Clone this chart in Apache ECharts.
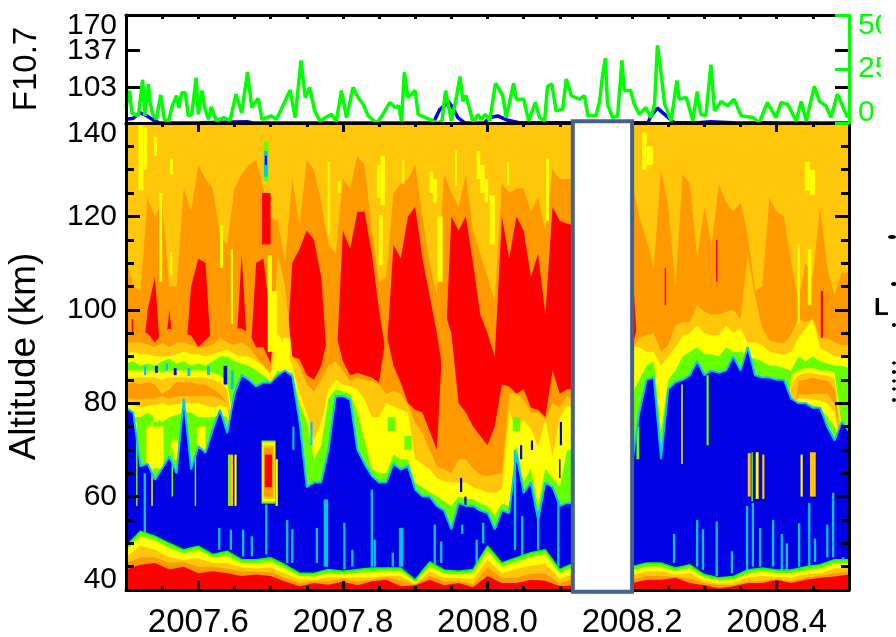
<!DOCTYPE html>
<html><head><meta charset="utf-8">
<script src="https://cdn.jsdelivr.net/npm/echarts@6/dist/echarts.min.js"></script>
<style>html,body{margin:0;background:#fff}#c{width:896px;height:637px}</style></head>
<body><div id="c"></div><script>
const xMajor=[2007.6,2007.8,2008.0,2008.2,2008.4];
const xMinor=[2007.55,2007.65,2007.7,2007.75,2007.85,2007.9,2007.95,2008.05,2008.1,2008.15,2008.25,2008.3,2008.35,2008.45];
const f107Ticks=[103,137];
const f107Top=[170];
const greenTicks=[0,25,50];
const N=null;
const greenT=[0,5,8,17,23,26,31,33,37,42,48,53,59,64,70,73,77,82,86,91,97,100,105,109,114,118,125,135,144,152,160,168,174,183,188,201,208,218,227,234,242,248,254,261,268,284,291,298,305,314,321,328,335,347,354,365,372,377,381,385,390,400,404,420,430,437,442,450,457,462,466,470,475,480,487,491,497,503,511,516,521,526,536,540,550,557,566,572,579,583,589,595,604,609,616,627,634,639,650,655,659,663,666,673,680,686,689,698,703,710,719,726,731,735,740,745,754,762,765,775,784,790,795,802,809,814,823,832,841,851,867,876,887,899,906,915,927,934,941,952,959,968,975,984,994,998];
const greenV=[7.2,15,4.7,3.3,20,3.3,18,10,4,1.7,13,1.7,1,8,12.7,7,14,14,3.3,4,21,4,15,7,1.7,7.5,1,2.5,1.2,13.4,4.8,23.5,7.2,11.4,1.7,3.3,1.7,8.7,15.2,2.5,29,11.8,16.5,5.6,1,4,1,15,2.5,16.5,11.8,8.7,3.3,0,3.3,9.5,7.2,8,1,23.5,11.8,15,4,1.7,0,1,15,1,12,21.5,10,12.7,7,0.2,4,1.7,4,1,18.4,15.8,12.7,2.5,18.4,11,11,1,9.5,2.5,1,17,18,5.6,6.4,20.4,12.7,11,12.7,3.3,3.3,10,21.8,30,8.7,2.5,3.3,29,15,15,8.7,4,7.2,2.5,8.7,36,23.5,8.7,1,19.7,11,11.8,1,14.6,4,3.3,27,5.6,10,8,11,3.3,2.5,0.2,9.5,2.5,9.5,8.7,1,10,1,17,10,8,2.5,13.4,5.6,2.5];
const blueT=[0,10,19,29,40,47,102,167,176,400,416,425,434,442,445,452,459,468,482,496,503,514,528,544,722,726,735,745,758,791,809,846,883,906,1000];
const blueV=[73.4,74.4,79.7,76.5,71.9,70,70.3,71.2,70,70,70,70.3,82.5,87,90.5,84,75,70.3,70,70.3,75,76.5,72.5,70.3,70.3,76.5,83.7,78,70.3,70.3,71.2,70,70.3,70,70];

const orangeTop=[111,105,104,124,120,123,105,105,126,121,131,128,126,116,114,126,129,131,132,126,120,119,110,128,118,132,130,123,114,112,128,
126,133,131,117,106,107,125,127,128,131,120,110,103,129,125,122,129,117,112,107,102,127,125,126,126,121,124,117,130,128,128,128,N,N,N,N,N,N,N,
127,120,115,109,130,122,105,129,127,111,122,114,127,123,121,123,116,104,105,124,121,120,110,102,110,107,122,109,103,108,108];
const redTop=[85,88,85,100,107,85,100,85,85,105,111,110,85,85,85,85,112,85,110,111,98,85,85,110,113,117,115,107,85,85,117,
113,121,121,112,100,90,114,111,120,122,111,103,95,85,120,117,120,110,99,95,90,120,111,120,117,107,112,99,122,119,118.5,118,N,N,N,N,N,N,N,
110,85,85,85,85,85,85,85,85,85,85,85,85,85,85,85,85,85,85,85,85,85,85,85,85,85,85,85,85,85,85];
const redBot=[95,95,95,95,93,95,96,95,95,94.5,92,93.5,95,95,95,96,96,95,92,92,88.6,100,100,90,89.4,86,85,88,95,95,89,
86,86.5,86,85.5,84.4,95,88,84.4,80,78.6,78,74,70,100,95,80,78,75,73,71,75,84,83.6,82,83,79,78.6,77,87,82,83,83,N,N,N,N,N,N,N,
92,98,98,98,98,98,98,98,98,98,98,98,98,98,98,98,98,98,98,98,98,98,98,98,98,98,98,98,98,98,98];
const amberLow=[93,93,93,92.5,92,93,92,93,93,92.5,92,92,92.5,94,93,92.5,93,92,90,88,86.5,112,105,90,88,84,82.5,85,88,89,87,
84.7,85.4,85,84.7,84,82,82.6,82,79.7,75.8,73.6,70,66.5,65.8,65,68,68,66,64.7,64.4,64.7,65,82,82,80.8,78,78,76.5,80,79,81.5,81,N,N,N,N,N,N,N,
91.7,94,94.6,95,91,92.4,96.7,97.4,97.4,101,99.6,99,99,99.6,100,98,112,103,96,93.5,93,92.8,94.6,98,97.4,98,94,94,93,92.4,92.4];
const yellowUp=[90.5,91,90.5,90.5,90,90,90,90.5,91,90.5,90.5,90,90.5,91,91.5,90.5,90,90,89,88,86,95,92,88,82,78,72,76,83,85,84,
83.6,83,80.8,77,77,80,79.4,78.6,78,68,67,65.8,64,63.3,63,63,63,62,61.5,60.8,60.8,61.5,78.6,73.6,76.5,74.4,70.8,76.5,68.6,77,79.4,79,N,N,N,N,N,N,N,
92,92,91,91,88,90,92,94.5,95,96.7,95,94.5,94.5,96.7,95,96,93,93,92.4,91,90.7,90.3,91,94,96,98,91.7,91,90,90,89.6];
const greenUp=[88.5,89,88,88.5,88,89,89.5,88.5,89,88,88.5,88,89,90,90,89,88.5,88,87,86,84.5,87,86.5,86.5,80,76,68,71,81,83,82.5,
82,78,72,66,65,65,69,68,68,63,62,61,60,59,58,60,59.5,59.5,58.5,58,56,58.5,58,71,63,66,58,66,64,62,70,70,N,N,N,N,N,N,N,
82,85,88,89,74,85,87,90,91,92,90.5,90.5,90,92,91,91,90,89.5,89,88,88,87.5,87,90,89,90,89,88.5,88,88,87.5];
const blueTop=[79,78,66.5,67,63.6,66,68.6,65,81,65.8,70.8,69.4,74.4,78.6,73.6,82,86,85,83.6,84.4,84.4,86,87,85.8,76,62,63,63,70,81.5,81.5,
80.8,70,67,64.4,63,63,67,65.8,66.5,61.5,60,60,58,57,53,58.6,58,58,57,56.5,53,57,56.5,69,60.8,63,55,63,62,58,58.6,58.6,N,N,N,N,N,N,N,
67,78,85,85.5,68,83,84.5,85,86,89,86,87,86.5,87,90,87,92,86,85.5,85.5,85,85,81,80,80,79,79,75,72,76,74];

const blobLY=[87,87,87,87,87,86.5,87,87,87,87,87,87,86.5,86,84.5,75,70];
const blobLA=[85.5,85.5,85.5,85.5,85.5,85,85.5,85.5,85.5,85.5,85.5,85.5,85,84.5,83,72,70];
const blobLO=[84,84.5,84,84.5,84,82,83,84.5,84.5,84.5,84,84,83,82,80,70,70];
const blobLA2=[81,81,80.8,81,81,81.5,81,81.5,81.5,81.5,81.5,81.5,81.5,81,80,70,70];
const blobLY2=[80,79.5,79,79.5,79.5,80,79.5,79.8,80,80,80,79.5,79,79.5,79,68,68];
const blobLG2=[78,77,77,78,77,76,77,77.5,78,78,77,77,77,77.5,77,66,66];
const blobRY=[70,86,87,87.5,87.5,87,87,86.5,75,70];
const blobRA=[70,84,86,86.5,86.5,86,86,85,73,70];
const blobRO=[70,70,84.8,85,85.5,85,84.8,83,70,70];
const blobRA2=[70,70,82,81.8,82,82,82,80,70,70];
const blobRY2=[70,80,81,81,80.8,80.5,80,78,70,70];
const blobRG2=[70,78,80,80,79.5,79,77,75,70,70];

const surfG=[49.4,52.6,51.5,50,48.6,49.4,47.6,48.3,46.5,46.5,46.9,45.4,43.6,43.6,44.4,44,44.4,44.7,44.7,44.7,42.2,46,44.3,44,44.4,49.4,45.8,46.9,48,48.6,44.4,45.8,N,N,N,45,45.8,45.8,44.7,45.4,43.3,42.6,42.9,44.3,44.7,44.3,44.3,45,45.4,46.5,46.5];
const surfY=[48.5,51.5,50.6,49,47.8,48.5,47,47.3,45.8,45.7,46,44.6,43,42.9,43.6,43.3,43.7,43.8,44,44,41.7,45,43.5,43.3,43.6,48.3,45,46,47,47.7,43.6,45,N,N,N,44.2,45,45,44,44.6,42.7,42,42.2,43.5,44,43.6,43.6,44.2,44.6,45.7,45.8];
const surfA=[47,49.5,48.6,47,46.5,46.8,45.8,45.8,44.8,44.6,44.8,43.5,42.3,42.2,42.8,42.6,42.7,42.7,43,43,41.3,44,42.6,42.5,42.3,46.5,43.6,44.5,45.2,45.6,42.4,43.5,N,N,N,43.2,44,44,43.3,43.6,42,41.4,41.6,42.7,43,42.8,42.7,43.3,43.6,44.6,44.8];
const surfO=[45.8,47,47,45.8,46,45,45,44.6,44,43.9,43.8,42.6,41.5,41.9,41.9,42.4,41.8,42.2,42.8,42,41.2,43,41.8,41.9,41.2,44.8,42.5,42.6,43.5,43.6,41.4,42.5,N,N,N,42.3,43,43,42.8,42.4,41.5,41,41,41.9,42,42.3,41.9,42.7,43,43.6,44];
const surfR=[44.4,45.4,45.8,44.4,45,43.6,44,43.6,43,43.3,43,41.8,40.8,41.5,41.1,41.8,41,41.9,42.2,40.8,41,42.2,41,41.5,40.6,43,41.5,41.5,42.2,42,40.8,41,N,N,N,41.5,42.2,42.2,42.6,41.5,41,40.4,40.8,41.5,41.5,42.2,41.5,42.2,42.6,42.9,43.3];

const streaks=[
[2007.517,2007.524,125.6,139.6,'Y'],[2007.524,2007.529,130,139,'Y'],[2007.539,2007.543,133,137,'Y'],[2007.561,2007.565,129,132.4,'Y'],[2007.546,2007.550,106,125,'Y'],
[2007.561,2007.564,107.4,112.4,'Y'],[2007.630,2007.634,109,118,'Y'],[2007.645,2007.648,97,113,'Y'],[2007.696,2007.702,91,111.7,'Y'],[2007.702,2007.709,91,104,'Y'],
[2007.717,2007.727,90,94,'Y'],[2007.779,2007.782,116,131.7,'Y'],[2007.793,2007.797,125,127.5,'Y'],[2007.847,2007.852,124,131,'Y'],[2007.852,2007.858,122.4,133,'Y'],
[2007.850,2007.855,109.6,120.3,'Y'],[2007.882,2007.885,127,132,'Y'],[2007.920,2007.925,125,129.6,'Y'],[2007.925,2007.930,123,128,'Y'],[2007.931,2007.938,106,120,'Y'],
[2007.985,2007.990,128,134,'Y'],[2007.990,2007.996,125,131,'Y'],[2007.996,2008.001,123,128,'Y'],[2008.003,2008.010,114,124.5,'Y'],[2007.955,2007.958,126.7,134,'Y'],[2008.081,2008.085,119,132.4,'Y'],
[2008.027,2008.030,126.7,131.7,'Y'],[2008.439,2008.446,125.5,131.7,'Y'],[2008.446,2008.453,124.6,130,'Y'],[2008.214,2008.220,130,138,'Y'],[2008.220,2008.229,131,135,'Y'],[2008.443,2008.448,101,113,'Y'],[2008.429,2008.432,97,114,'Y'],
[2007.688,2007.700,114,125,'R'],[2008.245,2008.247,101,109,'R'],[2008.316,2008.318,106,115,'R'],[2008.461,2008.464,94,104,'R'],[2007.508,2007.510,95,98,'R'],
[2007.690,2007.697,127.5,136,'L'],[2007.691,2007.696,128.5,134,'C'],[2007.692,2007.695,131,133,'B']];
const noise=[
[2007.528,2007.552,66,75,'Y'],[2007.562,2007.572,68,72,'Y'],[2007.598,2007.610,70,75,'Y'],[2007.505,2007.515,70,76,'Y'],[2007.538,2007.545,76,79,'Y'],
[2007.790,2007.798,68,72,'Y'],[2007.862,2007.872,74,77,'L'],[2007.885,2007.895,70,73,'L'],[2008.035,2008.045,74,77,'L'],[2008.118,2008.125,73,77,'L'],
[2007.525,2007.528,86,88,'C'],[2007.540,2007.544,86.5,88,'B'],[2007.555,2007.558,87,88.5,'C'],[2007.566,2007.570,86,87.5,'B'],[2007.585,2007.589,85.8,87.5,'C'],[2007.612,2007.616,86,88,'C'],[2007.635,2007.640,84,88,'B'],[2007.645,2007.649,83,87,'C']];
const events=[
[2007.6875,2007.707,58.5,72,'L'],[2007.6885,2007.706,59,71.6,'Y'],[2007.690,2007.705,59.5,71,'A'],[2007.691,2007.703,60,70.5,'O'],[2007.692,2007.702,62,69,'R'],
[2007.707,2007.710,58,68,'Y'],
[2007.641,2007.644,58,69,'L'],[2007.644,2007.648,58,69,'A'],[2007.650,2007.653,58,69,'Y'],
[2007.514,2007.516,58,72,'L'],[2007.535,2007.537,58,76,'Y'],[2007.563,2007.565,60,70,'L'],[2007.595,2007.597,58,74,'L'],
[2008.360,2008.364,60,69.3,'A'],[2008.365,2008.367,59,69.5,'L'],[2008.371,2008.375,59.5,69.5,'Y'],[2008.380,2008.383,59.5,69,'A'],
[2008.433,2008.436,60,69,'Y'],[2008.446,2008.454,60,69.5,'A'],
[2008.206,2008.210,68,75,'L'],[2008.268,2008.270,67,84,'Y'],[2008.303,2008.306,71,86,'L'],
[2008.045,2008.048,68,71,'B'],[2008.060,2008.063,70,72,'B'],[2008.100,2008.103,71,76,'B'],[2008.099,2008.101,64,68,'B'],[2007.968,2007.971,55,60,'B'],[2007.962,2007.965,61,64,'B'],[2007.730,2007.733,70,75,'C'],[2007.755,2007.758,71,76,'C']];
const spikes=[[.026,51.9,65],[.129,48.6,53.3],[.145,48.6,52.9],[.162,47.2,52.9],[.174,47.2,51.5],[.194,47.6,58.3],[.223,45.8,55],[.230,45.8,53],[.264,45.8,53.3],[.275,45,59.4],[.278,45,59.4],[.302,44.4,54.4],[.313,45,48.6],
[.340,45,61.5],[.344,45,50.8],[.369,45,48],[.379,45,53.3],[.382,45,53.3],[.427,45,54],[.436,45.8,50.4],[.465,52,54],[.485,45.8,50.8],[.494,50,54.4],[.538,48.6,70],[.548,47,55.8],[.570,48.6,57],[.598,45,59.4],
[.758,45.8,52],[.790,45,55],[.798,44.3,53],[.817,43,54.7],[.838,43.6,48.3],[.859,44.3,58],[.867,45,58.6],[.877,45,53.3],[.895,45,55],[.907,44.3,52],[.914,44.3,50],[.931,45,54.3],[.945,45,58.6],[.953,46,51],[.970,47,54],[.978,47,60.8],[.992,46,47]];
const gapBox=[2008.118,2008.2,39.6,140.4];

const COL={R:'#ff0000',O:'#ff9900',A:'#ffc60a',Y:'#ffff00',L:'#66ff00',G:'#00ff00',C:'#00c4ff',B:'#0000e6'};
const row=(arr,step,from=0)=>arr.map((v,i)=>[2007.5+(i+from)*step,v]);
function band(arr,color,step=0.01,from=0,extra={}){
 return Object.assign({type:'line',xAxisIndex:2,yAxisIndex:4,data:row(arr,step,from),showSymbol:false,silent:true,
  lineStyle:{width:0,color},areaStyle:{color,opacity:1,origin:'start'},itemStyle:{color},animation:false,z:2},extra);
}
function rects(data){
 return {type:'custom',xAxisIndex:2,yAxisIndex:4,silent:true,animation:false,z:2,clip:true,data:data.map(r=>r.slice()),
  encode:{x:[0,1],y:[2,3]},
  renderItem(p,api){const d=data[p.dataIndex];const a=api.coord([d[0],d[3]]),b=api.coord([d[1],d[2]]);
   return {type:'rect',shape:{x:a[0],y:a[1],width:Math.max(b[0]-a[0],1),height:b[1]-a[1]},style:{fill:COL[d[4]]}};}};
}
const spikeRects=spikes.map(s=>[2007.5+s[0]-0.0016,2007.5+s[0]+0.0016,s[1],s[2],'C']);
const font='Liberation Sans';
const tick=(len,vals,color='#000',w=3)=>({show:true,inside:true,length:len,customValues:vals,lineStyle:{color,width:w}});
const lineS=(color='#000',w=3)=>({show:true,onZero:false,lineStyle:{color,width:w}});
const xBase={type:'value',min:2007.5,max:2008.5,splitLine:{show:false},axisLabel:{show:false},z:10};
const series=[
 band(orangeTop,COL.O),band(redTop,COL.R),band(redBot,COL.O),band(amberLow,COL.A),rects(streaks),
 band(yellowUp,COL.Y),band(greenUp,COL.L),
 band(blobLY,COL.Y),band(blobLA,COL.A),band(blobLO,COL.O),band(blobLA2,COL.A),band(blobLY2,COL.Y),band(blobLG2,COL.L),
 band(blobRY,COL.Y,0.01,91),band(blobRA,COL.A,0.01,91),band(blobRO,COL.O,0.01,91),band(blobRA2,COL.A,0.01,91),band(blobRY2,COL.Y,0.01,91),band(blobRG2,COL.L,0.01,91),
 rects(noise),
 band(blueTop,COL.B,0.01,0,{lineStyle:{width:2,color:COL.C}}),
 rects(spikeRects),rects(events),
 band(surfG,COL.L,0.02,0,{lineStyle:{width:1.5,color:COL.G}}),band(surfY,COL.Y,0.02),band(surfA,COL.A,0.02),band(surfO,COL.O,0.02),band(surfR,COL.R,0.02),
 {type:'custom',xAxisIndex:2,yAxisIndex:4,silent:true,animation:false,z:20,clip:false,data:[gapBox],encode:{x:[0,1],y:[2,3]},
  renderItem(p,api){const a=api.coord([gapBox[0],gapBox[3]]),b=api.coord([gapBox[1],gapBox[2]]);
   return {type:'rect',shape:{x:a[0],y:a[1],width:b[0]-a[0],height:b[1]-a[1]},style:{fill:'#fff',stroke:'#44628c',lineWidth:4}};}},
 {type:'line',xAxisIndex:0,yAxisIndex:0,data:blueT.map((t,i)=>[2007.5+t/1000,blueV[i]]),showSymbol:false,silent:true,animation:false,lineStyle:{color:'#0000e6',width:3.5},itemStyle:{color:'#0000e6'},z:3},
 {type:'line',xAxisIndex:0,yAxisIndex:2,data:greenT.map((t,i)=>[2007.5+t/1000,greenV[i]]),showSymbol:false,silent:true,animation:false,lineStyle:{color:'#00ff00',width:3.5},itemStyle:{color:'#00ff00'},z:4}
];
const bigLabel={fontFamily:font,fontSize:30,lineHeight:21,color:'#000'};
const dot=(cx,cy,rx,ry)=>({type:'ellipse',z:100,shape:{cx,cy,rx,ry},style:{fill:'#000'}});
const option={animation:false,backgroundColor:'#fff',textStyle:{fontFamily:font},
 grid:[{left:126,right:47,top:15,height:108,show:false,outerBoundsMode:'none'},{left:126,right:47,top:123,height:467,show:true,backgroundColor:COL.A,borderWidth:0,outerBoundsMode:'none'}],
 xAxis:[
  Object.assign({},xBase,{gridIndex:0,position:'bottom',axisLine:lineS(),axisTick:{show:false}}),
  Object.assign({},xBase,{gridIndex:0,position:'top',axisLine:lineS(),axisTick:tick(4,xMajor.concat(xMinor))}),
  Object.assign({},xBase,{gridIndex:1,position:'bottom',axisLine:lineS(),axisTick:tick(9,xMajor),axisLabel:{show:true,customValues:xMajor,margin:21,fontFamily:font,fontSize:33,lineHeight:24,color:'#000',formatter:v=>v.toFixed(1)}}),
  Object.assign({},xBase,{gridIndex:1,position:'bottom',axisLine:{show:false},axisTick:tick(4,xMinor)}),
  Object.assign({},xBase,{gridIndex:1,position:'top',axisLine:lineS(),axisTick:tick(9,xMajor)}),
  Object.assign({},xBase,{gridIndex:1,position:'top',axisLine:{show:false},axisTick:tick(4,xMinor)})
 ],
 yAxis:[
  {type:'value',gridIndex:0,position:'left',min:70,max:170,z:10,splitLine:{show:false},axisLine:lineS(),axisTick:tick(14,f107Ticks),
   name:'F10.7',nameLocation:'middle',nameRotate:90,nameGap:83,nameTextStyle:{fontFamily:font,fontSize:33,color:'#000'},
   axisLabel:Object.assign({customValues:f107Ticks,margin:9},bigLabel)},
  {type:'value',gridIndex:0,position:'right',min:70,max:170,z:10,splitLine:{show:false},axisLine:{show:false},axisTick:tick(14,f107Ticks),axisLabel:{show:false}},
  {type:'value',gridIndex:0,position:'right',min:0,max:50,z:11,splitLine:{show:false},axisLine:lineS('#00ff00'),axisTick:tick(14,greenTicks,'#00ff00'),
   axisLabel:{customValues:greenTicks,margin:9,fontFamily:font,fontSize:30,lineHeight:21,color:'#00ff00',verticalAlignMaxLabel:'top',verticalAlignMinLabel:'bottom'}},
  {type:'value',gridIndex:0,position:'left',min:70,max:170,z:10,splitLine:{show:false},axisLine:{show:false},axisTick:{show:false},
   axisLabel:Object.assign({customValues:f107Top,margin:9,verticalAlign:'top'},bigLabel)},
  {type:'value',gridIndex:1,position:'left',min:40,max:140,interval:20,z:10,splitLine:{show:false},axisLine:lineS(),
   axisTick:{show:true,inside:true,length:14,lineStyle:{color:'#000',width:3}},minorTick:{show:true,splitNumber:4,length:8,lineStyle:{color:'#000',width:3}},
   name:'Altitude (km)',nameLocation:'middle',nameRotate:90,nameGap:83,nameTextStyle:{fontFamily:font,fontSize:37,color:'#000'},
   axisLabel:Object.assign({margin:9,verticalAlignMaxLabel:'top',verticalAlignMinLabel:'bottom'},bigLabel)},
  {type:'value',gridIndex:1,position:'right',min:40,max:140,interval:20,z:10,splitLine:{show:false},axisLine:lineS(),
   axisTick:{show:true,inside:true,length:14,lineStyle:{color:'#000',width:3}},minorTick:{show:true,splitNumber:4,length:8,lineStyle:{color:'#000',width:3}},axisLabel:{show:false}}
 ],
 graphic:[{type:'rect',z:100,shape:{x:881,y:0,width:15,height:125},style:{fill:'#fff'}},
  dot(892,237,4,2),dot(894,284,3,2),dot(894,325,2,2),dot(894,363,2,1.5),dot(894,372,2,2),dot(894,381,2,1.5),dot(894,389,2,1.5),dot(894,400,2,2),
  {type:'text',z:100,x:874,y:296,style:{text:'L',fontFamily:font,fontSize:24,fontWeight:'bold',fill:'#000'}}],
 series
};
echarts.init(document.getElementById('c'),null,{renderer:'canvas'}).setOption(option);
</script></body></html>
